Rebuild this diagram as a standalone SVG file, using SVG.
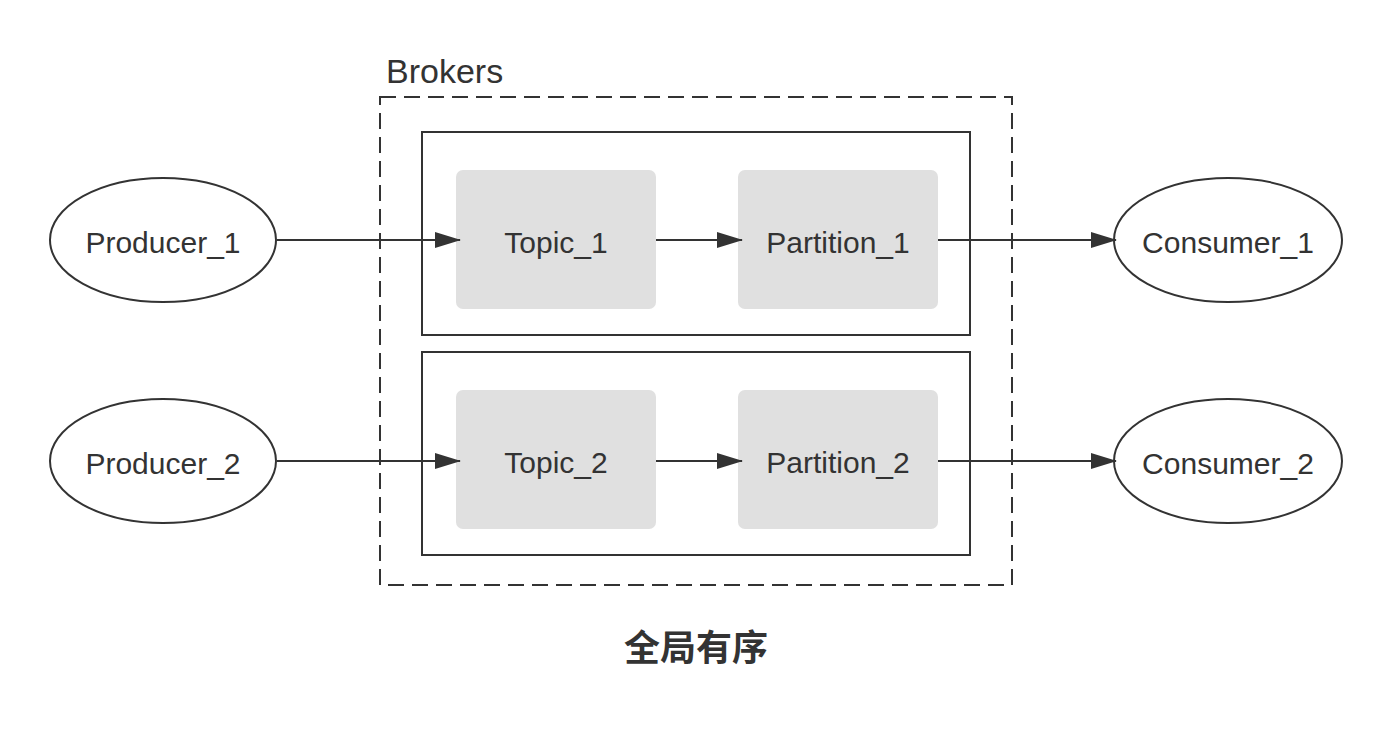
<svg xmlns="http://www.w3.org/2000/svg" width="1392" height="737" viewBox="0 0 1392 737">
<style>
.t{font-family:"Liberation Sans","Noto Sans CJK SC",sans-serif;font-size:30px;fill:#333;text-anchor:middle;dominant-baseline:central}
.e{fill:#fff;stroke:#333;stroke-width:2}
.g{fill:#e0e0e0}
.b{fill:none;stroke:#333;stroke-width:2}
.c{stroke:#333;stroke-width:2;fill:none;marker-end:url(#ah)}
</style>
<defs>
<marker id="ah" markerWidth="26" markerHeight="16" refX="25" refY="8" orient="auto" markerUnits="userSpaceOnUse" viewBox="0 0 26 16">
<path d="M0,0 L26,8 L0,16 z" fill="#333"/>
</marker>
</defs>
<rect width="1392" height="737" fill="#fff"/>
<g id="brokers">
<rect x="380" y="97" width="632" height="488" fill="none" stroke="#333" stroke-width="2" stroke-dasharray="16 8"/>
<text x="386" y="71" class="t" style="text-anchor:start;font-size:34px">Brokers</text>
</g>
<g id="group1"><rect x="422" y="132" width="548" height="203" class="b"/></g>
<g id="group2"><rect x="422" y="352" width="548" height="203" class="b"/></g>
<g id="topic1"><rect x="456" y="170" width="200" height="139" rx="7" class="g"/><text x="556" y="242" class="t">Topic_1</text></g>
<g id="partition1"><rect x="738" y="170" width="200" height="139" rx="7" class="g"/><text x="838" y="242" class="t">Partition_1</text></g>
<g id="topic2"><rect x="456" y="390" width="200" height="139" rx="7" class="g"/><text x="556" y="462" class="t">Topic_2</text></g>
<g id="partition2"><rect x="738" y="390" width="200" height="139" rx="7" class="g"/><text x="838" y="462" class="t">Partition_2</text></g>
<g id="producer1"><ellipse cx="163" cy="240" rx="113" ry="62" class="e"/><text x="163" y="242" class="t">Producer_1</text></g>
<g id="producer2"><ellipse cx="163" cy="461" rx="113" ry="62" class="e"/><text x="163" y="463" class="t">Producer_2</text></g>
<g id="consumer1"><ellipse cx="1228" cy="240" rx="114" ry="62" class="e"/><text x="1228" y="242" class="t">Consumer_1</text></g>
<g id="consumer2"><ellipse cx="1228" cy="461" rx="114" ry="62" class="e"/><text x="1228" y="463" class="t">Consumer_2</text></g>
<g id="connectors">
<line x1="277" y1="240" x2="460" y2="240" class="c"/>
<line x1="656" y1="240" x2="742" y2="240" class="c"/>
<line x1="938" y1="240" x2="1116" y2="240" class="c"/>
<line x1="277" y1="461" x2="460" y2="461" class="c"/>
<line x1="656" y1="461" x2="742" y2="461" class="c"/>
<line x1="938" y1="461" x2="1116" y2="461" class="c"/>
</g>
<text x="696" y="648" class="t" style="font-size:36px;font-weight:bold">全局有序</text>
</svg>
